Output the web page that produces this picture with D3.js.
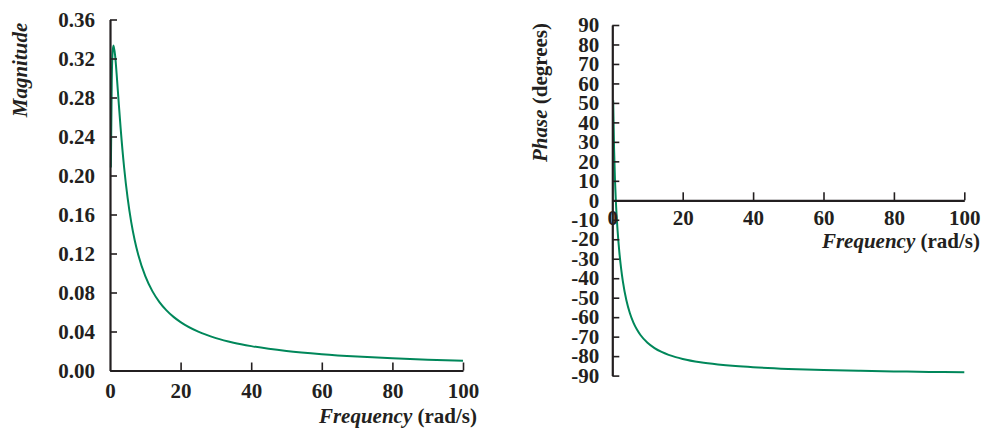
<!DOCTYPE html>
<html>
<head>
<meta charset="utf-8">
<script src="https://cdn.jsdelivr.net/npm/d3@7/dist/d3.min.js"></script>
<style>
  html, body { margin: 0; padding: 0; background: #fff; }
  svg { display: block; }
  .tick text, .title { font-family: "Liberation Serif", "Times New Roman", serif; font-weight: bold; fill: #231f20; }
</style>
</head>
<body>
<svg id="chart" width="981" height="430"></svg>
<script>
// Frequency (rad/s) sample points
const frequency = [0.25, 0.5, 0.75, 1, 1.5, 2, 2.5, 3, 4, 5, 6, 7, 8, 10, 12, 14, 16, 18, 20, 25, 30, 35, 40, 50, 60, 70, 80, 90, 100];
// Magnitude values
const magnitude = [0.2082, 0.2981, 0.3272, 0.3333, 0.3212, 0.2981, 0.2731, 0.2491, 0.2082, 0.1767, 0.1524, 0.1336, 0.1187, 0.0967, 0.0814, 0.0702, 0.0617, 0.0550, 0.0496, 0.0398, 0.0332, 0.0285, 0.0250, 0.0200, 0.0167, 0.0143, 0.0125, 0.0111, 0.0100];
// Phase values (degrees)
const phase = [51.34, 26.57, 11.00, 0, -15.52, -26.57, -34.99, -41.63, -51.34, -57.99, -62.78, -66.37, -69.15, -73.14, -75.87, -77.85, -79.34, -80.51, -81.45, -83.15, -84.28, -85.10, -85.71, -86.57, -87.14, -87.55, -87.85, -88.09, -88.28];

const freqTicks = [0, 20, 40, 60, 80, 100];
const magTicks = [0.00, 0.04, 0.08, 0.12, 0.16, 0.20, 0.24, 0.28, 0.32, 0.36];
const phaseTicks = [90, 80, 70, 60, 50, 40, 30, 20, 10, 0, -10, -20, -30, -40, -50, -60, -70, -80, -90];

const svg = d3.select("#chart");
const ink = "#231f20";
const green = "#00875a";
const fs = 21;

function styleAxis(g) {
  g.selectAll(".domain").attr("stroke", ink).attr("stroke-width", 2.2);
  g.selectAll(".tick line").attr("stroke", ink).attr("stroke-width", 1.6);
  g.selectAll(".tick text").style("font-size", fs + "px").attr("fill", ink);
}

// ---------- Left: magnitude ----------
const x1 = d3.scaleLinear().domain([0, 100]).range([110, 463]);
const y1 = d3.scaleLinear().domain([0, 0.36]).range([370.5, 19.5]);

const line1 = d3.line().x((d, i) => x1(frequency[i])).y(d => y1(d)).curve(d3.curveMonotoneX);
svg.append("path").datum(magnitude).attr("d", line1)
  .attr("fill", "none").attr("stroke", green).attr("stroke-width", 2);

svg.append("g").attr("transform", `translate(${x1(0)},0)`)
  .call(d3.axisLeft(y1).tickValues(magTicks).tickFormat(d3.format(".2f")).tickSizeInner(-7).tickSizeOuter(0).tickPadding(15))
  .call(styleAxis);

svg.append("g").attr("transform", `translate(0,${y1(0)})`)
  .call(d3.axisBottom(x1).tickValues(freqTicks).tickFormat(d => String(d)).tickSizeInner(-8).tickSizeOuter(0).tickPadding(13))
  .call(styleAxis)
  .call(g => g.selectAll(".tick").filter(d => d === 0).select("line").remove());

svg.append("text").attr("class", "title")
  .attr("transform", "translate(27,70) rotate(-90)")
  .attr("text-anchor", "middle").style("font-size", fs + "px").style("font-style", "italic")
  .text("Magnitude");

const t1 = svg.append("text").attr("class", "title")
  .attr("x", 477).attr("y", 423).attr("text-anchor", "end").style("font-size", fs + "px");
t1.append("tspan").style("font-style", "italic").text("Frequency");
t1.append("tspan").text(" (rad/s)");

// ---------- Right: phase ----------
const x2 = d3.scaleLinear().domain([0, 100]).range([612.3, 964.3]);
const y2 = d3.scaleLinear().domain([-90, 90]).range([375.6, 25]);

const line2 = d3.line().x((d, i) => x2(frequency[i])).y(d => y2(d)).curve(d3.curveMonotoneX);
svg.append("path").datum(phase).attr("d", line2)
  .attr("fill", "none").attr("stroke", green).attr("stroke-width", 2);

svg.append("g").attr("transform", `translate(${x2(0)},0)`)
  .call(d3.axisLeft(y2).tickValues(phaseTicks).tickFormat(d => String(d)).tickSizeInner(-7).tickSizeOuter(0).tickPadding(13))
  .call(styleAxis);

svg.append("g").attr("transform", `translate(0,${y2(0)})`)
  .call(d3.axisBottom(x2).tickValues(freqTicks).tickFormat(d => String(d)).tickSizeInner(-8).tickSizeOuter(0).tickPadding(10))
  .call(styleAxis)
  .call(g => g.selectAll(".tick").filter(d => d === 0).select("line").remove());

const t2 = svg.append("text").attr("class", "title")
  .attr("transform", "translate(547,92.5) rotate(-90)")
  .attr("text-anchor", "middle").style("font-size", fs + "px");
t2.append("tspan").style("font-style", "italic").text("Phase");
t2.append("tspan").text(" (degrees)");

const t3 = svg.append("text").attr("class", "title")
  .attr("x", 980).attr("y", 248).attr("text-anchor", "end").style("font-size", fs + "px");
t3.append("tspan").style("font-style", "italic").text("Frequency");
t3.append("tspan").text(" (rad/s)");
</script>
</body>
</html>
